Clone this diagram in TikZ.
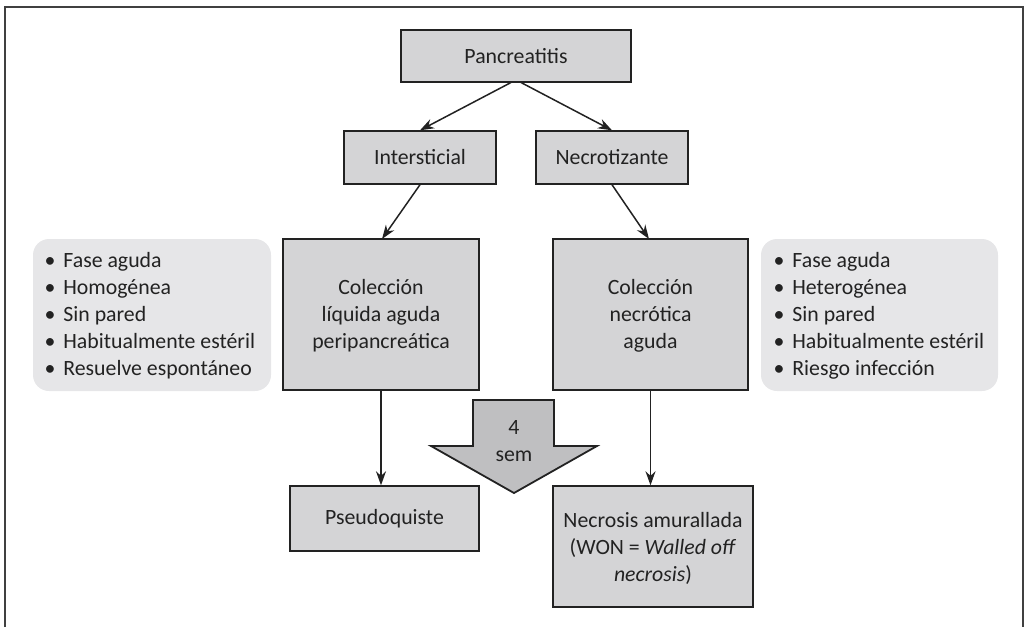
\documentclass[tikz,border=0pt]{standalone}
\usepackage{fontspec}
\setmainfont{Carlito}
\usetikzlibrary{arrows.meta}
\definecolor{boxfill}{HTML}{D4D4D6}
\definecolor{listfill}{HTML}{E6E6E8}
\definecolor{bigarrow}{HTML}{BFBFC1}
\definecolor{ink}{HTML}{222222}
\tikzset{
  box/.style={draw=ink, line width=1.4pt, fill=boxfill, inner sep=0pt, text=ink, align=center},
  listbox/.style={fill=listfill, rounded corners=16pt, inner sep=0pt},
  conn/.style={draw=ink, line width=1.5pt, -{Stealth[length=14pt,width=10pt]}},
  txt/.style={font=\fontsize{21.8}{27}\selectfont, text=ink},
}
\begin{document}
\begin{tikzpicture}[x=1pt,y=-1pt]
\useasboundingbox (0,0) rectangle (1027,627);
% frame
\draw[line width=2pt, draw=black!75] (5,627) -- (5,7) -- (1023,7) -- (1023,627);
% boxes
\node[box, minimum width=230pt, minimum height=52pt] (pan) at (516,56) {};
\node[txt] at (pan.center) {Pancreatitis};
\node[box, minimum width=152pt, minimum height=53pt] (int) at (420,157.5) {};
\node[txt] at (int.center) {Intersticial};
\node[box, minimum width=152pt, minimum height=53pt] (nec) at (612,157.5) {};
\node[txt] at (nec.center) {Necrotizante};
\node[box, minimum width=196pt, minimum height=151pt] (cla) at (381,314.5) {};
\node[txt, align=center] at (381,316) {Colección\\líquida aguda\\peripancreática};
\node[box, minimum width=195pt, minimum height=151pt] (cna) at (650.5,314.5) {};
\node[txt, align=center] at (650.5,316) {Colección\\necrótica\\aguda};
\node[box, minimum width=189pt, minimum height=65pt] (pse) at (384.5,518.5) {};
\node[txt] at (pse.center) {Pseudoquiste};
\node[box, minimum width=200pt, minimum height=121pt] (won) at (653,546.5) {};
\node[txt, align=center] at (653,548) {Necrosis amurallada\\(WON = \textit{Walled off}\\\textit{necrosis})};
% list boxes
\node[listbox, minimum width=238pt, minimum height=152pt] (ll) at (152,315) {};
\node[txt, align=left, anchor=west] at (41,316) {\textbullet\hspace{8pt}Fase aguda\\\textbullet\hspace{8pt}Homogénea\\\textbullet\hspace{8pt}Sin pared\\\textbullet\hspace{8pt}Habitualmente estéril\\\textbullet\hspace{8pt}Resuelve espontáneo};
\node[listbox, minimum width=237pt, minimum height=152pt] (rl) at (879.5,315) {};
\node[txt, align=left, anchor=west] at (770,316) {\textbullet\hspace{8pt}Fase aguda\\\textbullet\hspace{8pt}Heterogénea\\\textbullet\hspace{8pt}Sin pared\\\textbullet\hspace{8pt}Habitualmente estéril\\\textbullet\hspace{8pt}Riesgo infección};
% connectors
\coordinate (p1) at (511,82.5);
\coordinate (p2) at (521,82.5);
\draw[conn] (p1) -- (int.north);
\draw[conn] (p2) -- (nec.north);
\draw[conn] (int.south) -- (382,239);
\draw[conn] (nec.south) -- (649,239);
\draw[conn] (cla.south) -- (cla.south |- pse.north);
\draw[conn] (cna.south) -- (cna.south |- won.north);
% big arrow
\draw[draw=ink, line width=1.8pt, fill=bigarrow, line join=miter]
  (473,400) -- (554,400) -- (554,446) -- (597,446) -- (514,493) -- (431,446) -- (473,446) -- cycle;
\node[txt, align=center] (four) at (514,441) {4\\sem};
\end{tikzpicture}
\end{document}
